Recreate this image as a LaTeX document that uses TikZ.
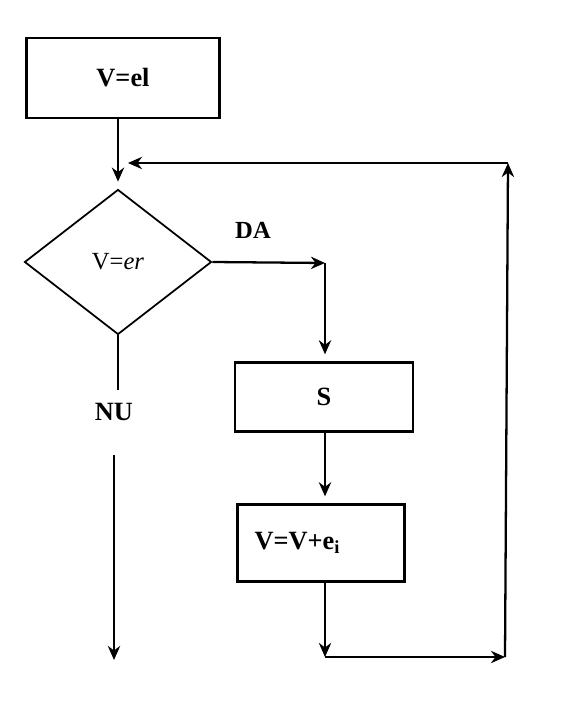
\documentclass[tikz,border=0pt]{standalone}
\usepackage{fontspec}
\setmainfont{Liberation Serif}
\usetikzlibrary{shapes.geometric,arrows.meta}

\begin{document}
\begin{tikzpicture}[x=0.02cm, y=-0.02cm, >={Stealth[length=8pt,width=7pt]},
  box/.style={draw, line width=1.3pt, rectangle},
  lbl/.style={font=\bfseries\fontsize{15}{17}\selectfont},
  link/.style={line width=1.3pt}]
  \useasboundingbox (0,0) rectangle (564,716);
  % steps of the loop
  \node[box, lbl, minimum width=3.86cm, minimum height=1.6cm] (init) at (123,78) {V=el};
  \node[draw, line width=1pt, diamond, minimum width=3.74cm, minimum height=2.9cm,
    font=\fontsize{14}{16}\selectfont] (test) at (118,262) {V=\textit{er}};
  \node[box, lbl, minimum width=3.56cm, minimum height=1.38cm] (sbox) at (324,397) {S};
  \node[box, lbl, minimum width=3.34cm, minimum height=1.54cm, text width=2.66cm,
    inner xsep=0.34cm, align=left] (vbox) at (321,543) {V=V+e\textsubscript{i}};
  % branch labels
  \node[lbl, font=\bfseries\fontsize{14}{16}\selectfont] (da) at (253,230) {DA};
  \node[lbl] (nu) at (114,412) {NU};
  % corners of the connectors
  \coordinate (daturn) at (325,263);
  \coordinate (vout) at (325,657);
  \coordinate (rightbot) at (505,657);
  \coordinate (righttop) at (508,163);
  \coordinate (merge) at (128,163);
  \coordinate (exit) at (114,660);
  % into the test
  \draw[link, ->, shorten >=4pt] (init.south -| test.north) -- (test.north);
  % DA branch
  \draw[link, ->] (test.east) -- (daturn);
  \draw[link, ->, shorten >=4pt] (daturn) -- (daturn |- sbox.north);
  \draw[link, ->, shorten >=4pt] (sbox.south -| daturn) -- (daturn |- vbox.north);
  \draw[link, ->] (vbox.south -| daturn) -- (vout);
  \draw[link, ->] (vout) -- (rightbot);
  \draw[link, ->] (rightbot) -- (righttop);
  \draw[link, ->] (righttop) -- (merge);
  % NU branch
  \draw[link, shorten >=4pt] (test.south) -- (test.south |- nu.north);
  \draw[link, ->, shorten <=16pt] (nu.south) -- (exit);
\end{tikzpicture}
\end{document}
